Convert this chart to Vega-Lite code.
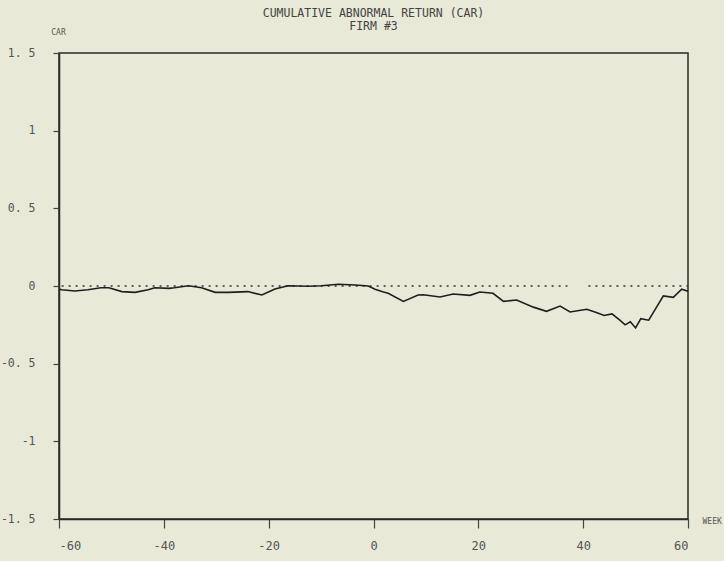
{
  "$schema": "https://vega.github.io/schema/vega-lite/v6.json",
  "autosize": {"type": "none"},
  "width": 629,
  "height": 466,
  "padding": {"left": 59, "top": 53, "right": 36, "bottom": 42},
  "background": "#e8ead7",
  "title": {
    "text": ["CUMULATIVE ABNORMAL RETURN (CAR)", "FIRM #3"],
    "font": "DejaVu Sans Mono",
    "fontSize": 11.5,
    "fontWeight": "normal",
    "color": "#444",
    "anchor": "middle",
    "offset": -4,
    "lineHeight": 13
  },
  "config": {
    "view": {"stroke": "#2a2a2a", "strokeWidth": 1.5},
    "axis": {
      "labelFont": "DejaVu Sans Mono",
      "labelFontSize": 12,
      "labelColor": "#555",
      "titleFont": "DejaVu Sans Mono",
      "titleFontWeight": "normal",
      "titleColor": "#555",
      "grid": false,
      "domainColor": "#2a2a2a",
      "domainWidth": 1.5,
      "tickColor": "#444",
      "tickWidth": 1.2
    }
  },
  "datasets": {
    "car": [
      {"week": -60, "car": -0.02},
      {"week": -59.5, "car": -0.024},
      {"week": -57, "car": -0.032},
      {"week": -54.5, "car": -0.024},
      {"week": -52, "car": -0.011},
      {"week": -50.5, "car": -0.011},
      {"week": -48, "car": -0.036},
      {"week": -45.5, "car": -0.041},
      {"week": -43, "car": -0.024},
      {"week": -41.7, "car": -0.011},
      {"week": -39, "car": -0.015},
      {"week": -38, "car": -0.011},
      {"week": -35.3, "car": 0.002},
      {"week": -32.8, "car": -0.011},
      {"week": -30.2, "car": -0.041},
      {"week": -27.7, "car": -0.041},
      {"week": -24, "car": -0.036},
      {"week": -21.3, "car": -0.058},
      {"week": -18.8, "car": -0.019},
      {"week": -16.3, "car": 0.002},
      {"week": -12.4, "car": -0.002},
      {"week": -9.9, "car": 0.002},
      {"week": -6.7, "car": 0.011},
      {"week": -3.5, "car": 0.006},
      {"week": -1, "car": 0.0},
      {"week": 0.3, "car": -0.021},
      {"week": 1.9, "car": -0.039},
      {"week": 2.8, "car": -0.047},
      {"week": 5.7, "car": -0.099},
      {"week": 8.5, "car": -0.058},
      {"week": 9.5, "car": -0.056},
      {"week": 12.7, "car": -0.071},
      {"week": 15.2, "car": -0.052},
      {"week": 18.4, "car": -0.06},
      {"week": 20.3, "car": -0.039},
      {"week": 22.8, "car": -0.047},
      {"week": 24.8, "car": -0.099},
      {"week": 27.3, "car": -0.09},
      {"week": 30.5, "car": -0.136},
      {"week": 33, "car": -0.163},
      {"week": 35.6, "car": -0.129},
      {"week": 37.5, "car": -0.167},
      {"week": 40.7, "car": -0.15},
      {"week": 42.5, "car": -0.17},
      {"week": 44, "car": -0.19},
      {"week": 45.5, "car": -0.18},
      {"week": 47, "car": -0.22},
      {"week": 48, "car": -0.25},
      {"week": 49, "car": -0.23},
      {"week": 50, "car": -0.27},
      {"week": 51, "car": -0.21},
      {"week": 52.5, "car": -0.22},
      {"week": 53.4, "car": -0.17},
      {"week": 55.3, "car": -0.064},
      {"week": 57.2, "car": -0.073},
      {"week": 58.8, "car": -0.021},
      {"week": 60, "car": -0.034}
    ],
    "zero": [
      {"from": -59.5, "to": 37, "y": 0},
      {"from": 41, "to": 60, "y": 0}
    ]
  },
  "layer": [
    {
      "data": {"name": "zero"},
      "mark": {"type": "rule", "strokeDash": [2, 5], "strokeWidth": 1.6, "color": "#333"},
      "encoding": {
        "x": {"field": "from", "type": "quantitative", "scale": {"domain": [-60, 60], "nice": false}},
        "x2": {"field": "to"},
        "y": {"field": "y", "type": "quantitative", "scale": {"domain": [-1.5, 1.5], "nice": false}}
      }
    },
    {
      "data": {"name": "car"},
      "mark": {"type": "line", "color": "#1e1e1e", "strokeWidth": 1.6},
      "encoding": {
        "x": {
          "field": "week",
          "type": "quantitative",
          "scale": {"domain": [-60, 60], "nice": false},
          "axis": {
            "values": [-60, -40, -20, 0, 20, 40, 60],
            "labelExpr": "toString(datum.value)",
            "tickSize": 9,
            "labelPadding": 12,
            "title": "WEEK",
            "titleFontSize": 8,
            "titleAlign": "left",
            "titleBaseline": "alphabetic",
            "titleX": 643,
            "titleY": 4
          }
        },
        "y": {
          "field": "car",
          "type": "quantitative",
          "scale": {"domain": [-1.5, 1.5], "nice": false},
          "axis": {
            "values": [-1.5, -1, -0.5, 0, 0.5, 1, 1.5],
            "labelExpr": "replace(toString(datum.value), '.', '. ')",
            "labelFontSize": 11.5,
            "tickSize": 6,
            "labelPadding": 18,
            "title": "CAR",
            "titleFontSize": 8,
            "titleAngle": 0,
            "titleAlign": "center",
            "titleBaseline": "alphabetic",
            "titleX": -1,
            "titleY": -19
          }
        }
      }
    }
  ]
}
